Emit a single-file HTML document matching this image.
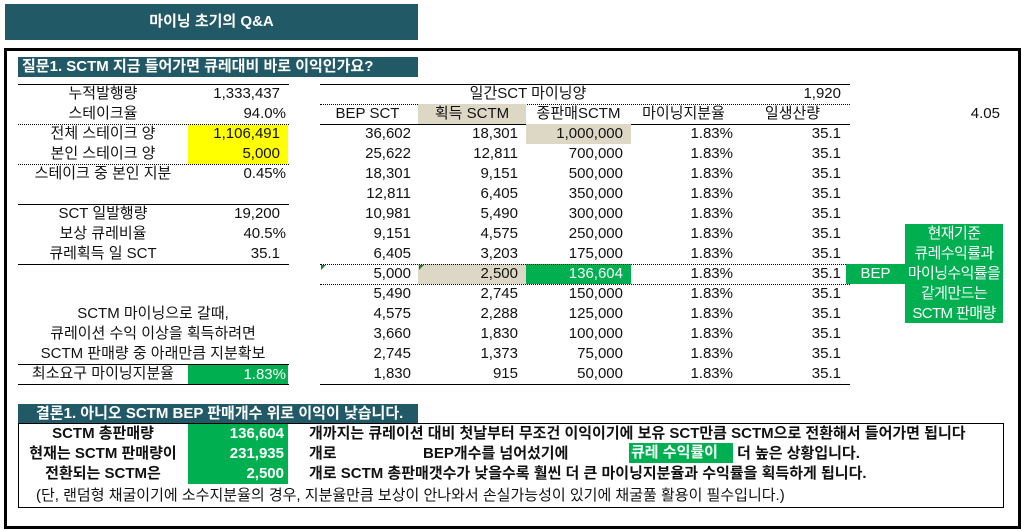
<!DOCTYPE html>
<html><head><meta charset="utf-8">
<style>
*{box-sizing:border-box;margin:0;padding:0}
body{width:1022px;height:531px;background:#fff;position:relative;overflow:hidden;font-family:"Liberation Sans","Noto Sans CJK KR",sans-serif;font-size:15px;color:#111;letter-spacing:0}
.a{position:absolute;white-space:nowrap;line-height:20px;height:20px}
.r{text-align:right}.c{text-align:center}
.hl{position:absolute;height:0;border-top:1px solid #000}
.dl{position:absolute;height:0;border-top:1px dotted #000}
.g{background:#00b050;color:#fff}
.bg{background:#ddd8c6}
.y{background:#ffff00}
.b{font-weight:bold}
</style></head><body>
<div class="a c b" style="left:5px;top:4px;width:413px;height:36px;line-height:36px;background:#215967;color:#fff;font-size:15px">마이닝 초기의 Q&amp;A</div>
<div style="position:absolute;left:4px;top:48px;width:1017px;height:481px;border:3px solid #000"></div>
<div class="a b" style="left:18px;top:57px;width:400px;background:#215967;color:#fff;padding-left:4px;font-size:15px">질문1. SCTM 지금 들어가면 큐레대비 바로 이익인가요?</div>

<!-- left table -->
<div class="hl" style="left:18px;top:84px;width:271px"></div>
<div class="a c" style="left:18px;top:84px;width:170px">누적발행량</div>
<div class="a r" style="left:180px;top:84px;width:100px">1,333,437</div>
<div class="a c" style="left:18px;top:104px;width:170px">스테이크율</div>
<div class="a r" style="left:188px;top:104px;width:98px">94.0%</div>
<div class="dl" style="left:18px;top:124px;width:271px"></div>
<div class="a y" style="left:188px;top:125px;width:100px;height:39px"></div>
<div class="a c" style="left:18px;top:124px;width:170px">전체 스테이크 양</div>
<div class="a r" style="left:180px;top:124px;width:100px">1,106,491</div>
<div class="a c" style="left:18px;top:144px;width:170px">본인 스테이크 양</div>
<div class="a r" style="left:188px;top:144px;width:92px">5,000</div>
<div class="dl" style="left:18px;top:164px;width:271px"></div>
<div class="a c" style="left:18px;top:164px;width:170px">스테이크 중 본인 지분</div>
<div class="a r" style="left:188px;top:164px;width:98px">0.45%</div>
<div class="hl" style="left:18px;top:204px;width:271px"></div>
<div class="a c" style="left:18px;top:204px;width:170px">SCT 일발행량</div>
<div class="a r" style="left:188px;top:204px;width:92px">19,200</div>
<div class="a c" style="left:18px;top:224px;width:170px">보상 큐레비율</div>
<div class="a r" style="left:188px;top:224px;width:98px">40.5%</div>
<div class="a c" style="left:18px;top:244px;width:170px">큐레획득 일 SCT</div>
<div class="a r" style="left:188px;top:244px;width:92px">35.1</div>
<div class="hl" style="left:18px;top:264px;width:271px"></div>
<div class="a c" style="left:18px;top:304px;width:270px">SCTM 마이닝으로 갈때,</div>
<div class="a c" style="left:18px;top:324px;width:270px">큐레이션 수익 이상을 획득하려면</div>
<div class="a c" style="left:18px;top:344px;width:270px">SCTM 판매량 중 아래만큼 지분확보</div>
<div class="hl" style="left:18px;top:364px;width:271px"></div>
<div class="a c" style="left:18px;top:364px;width:170px">최소요구 마이닝지분율</div>
<div class="a r g" style="left:188px;top:365px;width:100px;padding-right:2px">1.83%</div>
<div class="hl" style="left:18px;top:384px;width:271px"></div>

<!-- right table -->
<div class="hl" style="left:320px;top:84px;width:530px"></div>
<div class="a c" style="left:418px;top:84px;width:220px">일간SCT 마이닝양</div>
<div class="a r" style="left:740px;top:84px;width:101px">1,920</div>
<div class="dl" style="left:320px;top:104px;width:530px"></div>
<div class="a bg" style="left:418px;top:104px;width:108px"></div>
<div class="a c" style="left:320px;top:104px;width:95px">BEP SCT</div>
<div class="a c" style="left:418px;top:104px;width:108px">획득 SCTM</div>
<div class="a c" style="left:526px;top:104px;width:105px">종판매SCTM</div>
<div class="a c" style="left:631px;top:104px;width:105px">마이닝지분율</div>
<div class="a c" style="left:740px;top:104px;width:105px">일생산량</div>
<div class="a r" style="left:940px;top:104px;width:60px">4.05</div>
<div class="hl" style="left:320px;top:124px;width:530px"></div>
<div id="rows"></div>
<div class="hl" style="left:320px;top:384px;width:530px"></div>
<div class="a c g" style="left:846px;top:264px;width:59px">BEP</div>
<div class="g" style="position:absolute;left:905px;top:224px;width:98px;height:99px;text-align:center;line-height:20px;white-space:nowrap;letter-spacing:-0.6px">현재기준<br>큐레수익률과<br>마이닝수익률을<br>같게만드는<br>SCTM 판매량</div>

<!-- conclusion -->
<div class="a b" style="left:18px;top:404px;width:400px;height:19px;line-height:19px;background:#215967;color:#fff;padding-left:18px">결론1. 아니오 SCTM BEP 판매개수 위로 이익이 낮습니다.</div>
<div style="position:absolute;left:18px;top:423px;width:986px;height:85px;border:1px solid #000"></div>
<div class="a g" style="left:188px;top:424px;width:100px;height:60px"></div>
<div class="a c b" style="left:18px;top:424px;width:170px">SCTM 총판매량</div>
<div class="a r b g" style="left:188px;top:424px;width:96px">136,604</div>
<div class="a b" style="left:309px;top:424px">개까지는 큐레이션 대비 첫날부터 무조건 이익이기에 보유 SCT만큼 SCTM으로 전환해서 들어가면 됩니다</div>
<div class="a c b" style="left:18px;top:444px;width:170px">현재는 SCTM 판매량이</div>
<div class="a r b g" style="left:188px;top:444px;width:96px">231,935</div>
<div class="a b" style="left:309px;top:444px">개로</div>
<div class="a b" style="left:423px;top:444px">BEP개수를 넘어섰기에</div>
<div class="a b g" style="left:629px;top:443px;width:104px;padding-left:2px">큐레 수익률이</div>
<div class="a b" style="left:737px;top:444px">더 높은 상황입니다.</div>
<div class="a c b" style="left:18px;top:464px;width:170px">전환되는 SCTM은</div>
<div class="a r b g" style="left:188px;top:464px;width:96px">2,500</div>
<div class="a b" style="left:309px;top:464px">개로 SCTM 총판매갯수가 낮을수록 훨씬 더 큰 마이닝지분율과 수익률을 획득하게 됩니다.</div>
<div class="a" style="left:36px;top:486px;font-size:15px">(단, 랜덤형 채굴이기에 소수지분율의 경우, 지분율만큼 보상이 안나와서 손실가능성이 있기에 채굴풀 활용이 필수입니다.)</div>

<script>
const bepSct=["36,602","25,622","18,301","12,811","10,981","9,151","6,405","5,000","5,490","4,575","3,660","2,745","1,830"];
const gainSctm=["18,301","12,811","9,151","6,405","5,490","4,575","3,203","2,500","2,745","2,288","1,830","1,373","915"];
const totalSales=["1,000,000","700,000","500,000","350,000","300,000","250,000","175,000","136,604","150,000","125,000","100,000","75,000","50,000"];
const miningShare=["1.83%","1.83%","1.83%","1.83%","1.83%","1.83%","1.83%","1.83%","1.83%","1.83%","1.83%","1.83%","1.83%"];
const dailyOut=["35.1","35.1","35.1","35.1","35.1","35.1","35.1","35.1","35.1","35.1","35.1","35.1","35.1"];
const bepIndex=7;
const host=document.getElementById('rows');
function cell(txt,left,width,top,cls,name){
  const d=document.createElement('div');
  d.className='a r'+(cls?' '+cls:'');
  d.style.left=left+'px';d.style.top=top+'px';d.style.width=width+'px';
  d.textContent=txt;
  
  
  host.appendChild(d);
}
for(let i=0;i<bepSct.length;i++){
  const top=124+i*20;
  let gcls='',tcls='';
  if(i===bepIndex){gcls='bg';tcls='g';}
  if(i===0){tcls='bg';}
  cell(bepSct[i],320,91,top,'','bep-sct-cell');
  cell(gainSctm[i],418,108,top,gcls,'sctm-gain-cell');
  host.lastChild.style.paddingRight='8px';
  cell(totalSales[i],526,105,top,tcls,'total-sales-cell');
  host.lastChild.style.paddingRight='8px';
  cell(miningShare[i],631,102,top,'','mining-share-cell');
  cell(dailyOut[i],740,101,top,'','daily-output-cell');
  if(i===bepIndex){
    ['top','bottom'].forEach(function(p){
      const l=document.createElement('div');
      l.className='dl';
      l.style.left='320px';l.style.width='530px';
      l.style.top=(p==='top'?top:top+20)+'px';
      
      
      host.appendChild(l);
    });
    [321,419].forEach(function(x){
      const t=document.createElement('div');
      t.style.cssText='position:absolute;left:'+x+'px;top:'+(top+1)+'px;width:0;height:0;border-top:5px solid #1a7f2a;border-right:5px solid transparent';
      
      
      host.appendChild(t);
    });
  }
}
</script>
</body></html>
